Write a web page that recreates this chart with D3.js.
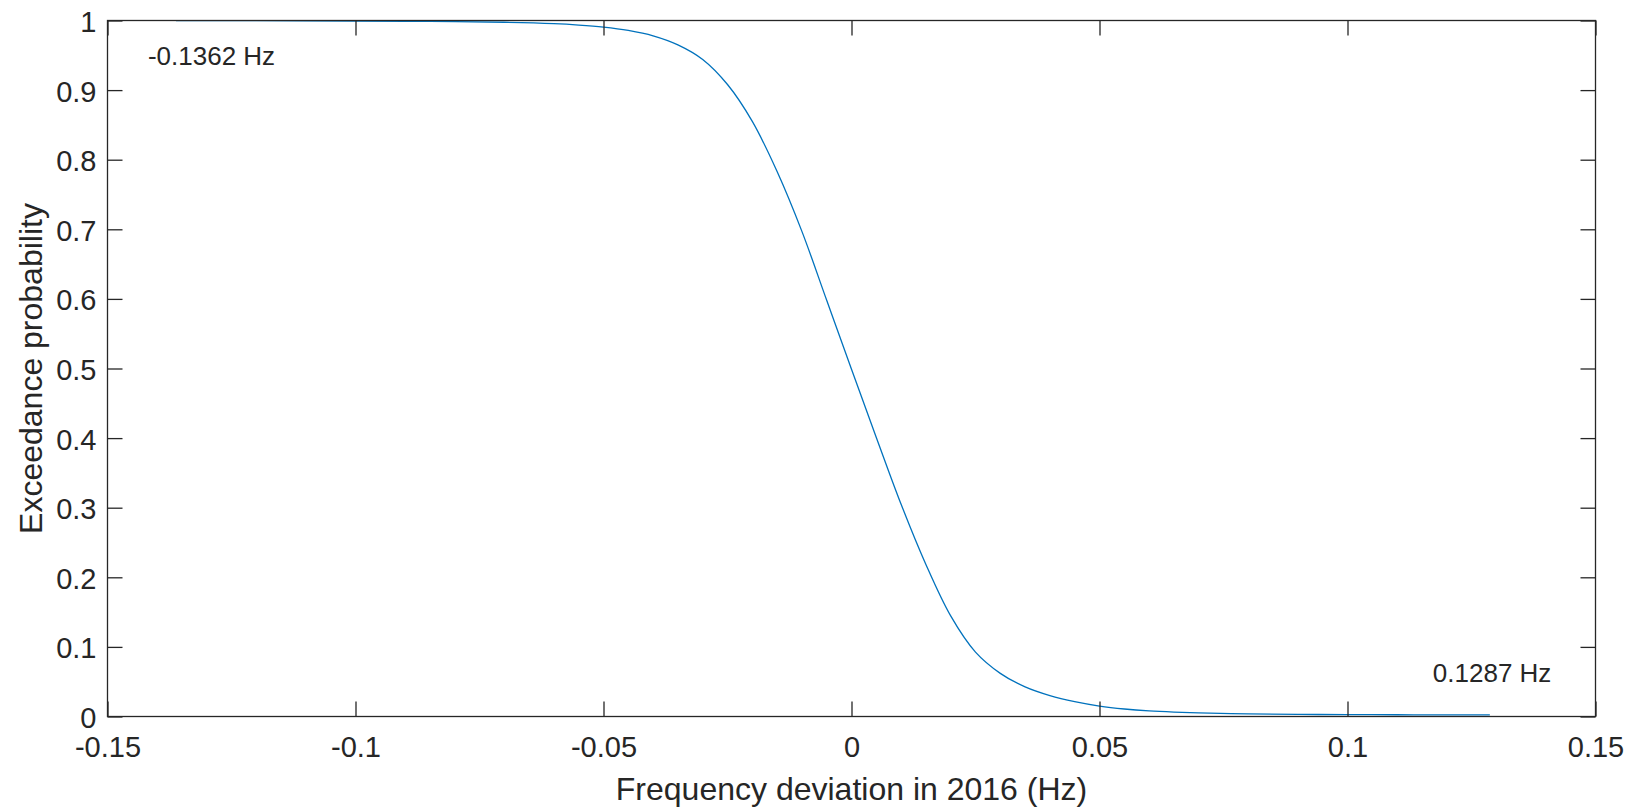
<!DOCTYPE html>
<html>
<head>
<meta charset="utf-8">
<script src="https://cdn.jsdelivr.net/npm/d3@7"></script>
<style>
  html, body { margin: 0; padding: 0; background: #ffffff; }
  svg { display: block; }
  text { font-family: "Liberation Sans", Arial, Helvetica, sans-serif; fill: #262626; }
</style>
</head>
<body>
<svg id="chart" width="1637" height="811"></svg>
<script>
// Exceedance probability curve of the 2016 frequency deviation (Hz)
const deviationHz = [
  -0.1362, -0.12, -0.10, -0.085, -0.07, -0.06, -0.055, -0.05, -0.045, -0.04,
  -0.035, -0.03, -0.025, -0.02, -0.015, -0.01, -0.005, 0.0, 0.005, 0.01,
  0.015, 0.02, 0.025, 0.03, 0.035, 0.04, 0.045, 0.05, 0.055, 0.06,
  0.065, 0.07, 0.08, 0.09, 0.10, 0.11, 0.12, 0.1287
];
const exceedance = [
  0.9999, 0.9997, 0.9993, 0.9987, 0.9975, 0.9955, 0.9935, 0.9905, 0.9857, 0.9780,
  0.9650, 0.9440, 0.9080, 0.8550, 0.7830, 0.6970, 0.5980, 0.4990, 0.4010, 0.3050,
  0.2185, 0.1445, 0.0925, 0.0620, 0.0425, 0.0300, 0.0213, 0.0150, 0.0108, 0.0080,
  0.0063, 0.0052, 0.0038, 0.0031, 0.0027, 0.0025, 0.0024, 0.0023
];

const xTicks = [-0.15, -0.1, -0.05, 0, 0.05, 0.1, 0.15];
const xTickLabels = ["-0.15", "-0.1", "-0.05", "0", "0.05", "0.1", "0.15"];
const yTicks = [0, 0.1, 0.2, 0.3, 0.4, 0.5, 0.6, 0.7, 0.8, 0.9, 1];
const yTickLabels = ["0", "0.1", "0.2", "0.3", "0.4", "0.5", "0.6", "0.7", "0.8", "0.9", "1"];

const endLabels = [
  { x: -0.1362, text: "-0.1362 Hz" },
  { x: 0.1287, text: "0.1287 Hz" }
];

const xLabel = "Frequency deviation in 2016 (Hz)";
const yLabel = "Exceedance probability";

const plot = { left: 107.5, right: 1595.5, top: 20.5, bottom: 716.5 };
const axisColor = "#262626";
const lineColor = "#0072BD";
const tickLen = 15;

const svg = d3.select("#chart");

const x = d3.scaleLinear().domain([-0.15, 0.15]).range([plot.left, plot.right]);
const y = d3.scaleLinear().domain([0, 1]).range([plot.bottom, plot.top]);

// curve
const data = deviationHz.map((d, i) => ({ x: d, y: exceedance[i] }));
const line = d3.line()
  .x(d => x(d.x))
  .y(d => y(d.y))
  .curve(d3.curveCatmullRom.alpha(0.5));

svg.append("path")
  .datum(data)
  .attr("fill", "none")
  .attr("stroke", lineColor)
  .attr("stroke-width", 1.3)
  .attr("d", line);

// axes with inward ticks on all four sides
function styleAxis(g) {
  g.selectAll(".domain").remove();
  g.selectAll(".tick line").attr("stroke", axisColor).attr("stroke-width", 1.3);
  g.selectAll("text").attr("fill", axisColor);
}

const fmtX = d => xTickLabels[xTicks.indexOf(d)];
const fmtY = d => yTickLabels[yTicks.indexOf(d)];

svg.append("g")
  .attr("transform", `translate(0,${plot.bottom})`)
  .call(d3.axisBottom(x).tickValues(xTicks).tickFormat(fmtX).tickSize(-tickLen).tickPadding(20))
  .call(styleAxis)
  .call(g => g.selectAll("text").style("font-size", "29px").attr("font-family", null));

svg.append("g")
  .attr("transform", `translate(0,${plot.top})`)
  .call(d3.axisTop(x).tickValues(xTicks).tickFormat("").tickSize(-tickLen))
  .call(styleAxis);

svg.append("g")
  .attr("transform", `translate(${plot.left},0)`)
  .call(d3.axisLeft(y).tickValues(yTicks).tickFormat(fmtY).tickSize(-tickLen).tickPadding(11))
  .call(styleAxis)
  .call(g => g.selectAll("text").style("font-size", "29px").attr("dy", "0.38em").attr("font-family", null));

svg.append("g")
  .attr("transform", `translate(${plot.right},0)`)
  .call(d3.axisRight(y).tickValues(yTicks).tickFormat("").tickSize(-tickLen))
  .call(styleAxis);

// box
svg.append("rect")
  .attr("x", plot.left)
  .attr("y", plot.top)
  .attr("width", plot.right - plot.left)
  .attr("height", plot.bottom - plot.top)
  .attr("fill", "none")
  .attr("stroke", axisColor)
  .attr("stroke-width", 1.3);

// axis titles
svg.append("text")
  .attr("x", (plot.left + plot.right) / 2)
  .attr("y", 800)
  .attr("text-anchor", "middle")
  .style("font-size", "32px")
  .text(xLabel);

svg.append("text")
  .attr("transform", `translate(42,${(plot.top + plot.bottom) / 2}) rotate(-90)`)
  .attr("text-anchor", "middle")
  .style("font-size", "32px")
  .text(yLabel);

// range end annotations
svg.append("text")
  .attr("x", x(endLabels[0].x) - 28)
  .attr("y", 64.5)
  .style("font-size", "26px")
  .text(endLabels[0].text);

svg.append("text")
  .attr("x", x(endLabels[1].x) - 57)
  .attr("y", 682)
  .style("font-size", "26px")
  .text(endLabels[1].text);
</script>
</body>
</html>
